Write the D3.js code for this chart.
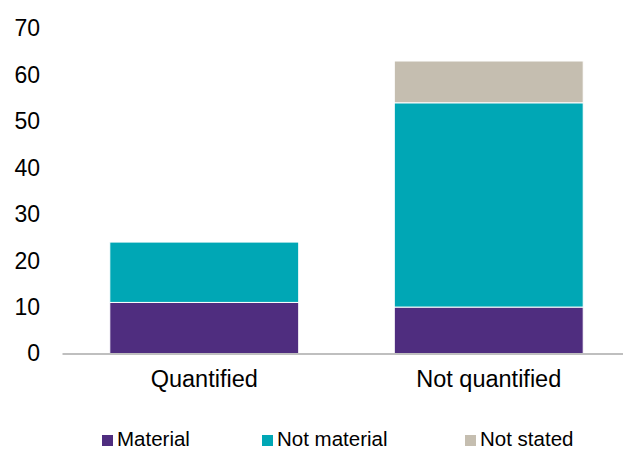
<!DOCTYPE html>
<html>
<head>
<meta charset="utf-8">
<script src="https://cdn.jsdelivr.net/npm/d3@7"></script>
<style>
  html, body { margin: 0; padding: 0; background: #fff; }
  svg { display: block; font-family: "Liberation Sans", Arial, sans-serif; }
</style>
</head>
<body>
<svg id="chart" width="623" height="449"></svg>
<script>
// Categories on the x axis
const categories = ["Quantified", "Not quantified"];
// Stacked series, bottom to top
const seriesNames = ["Material", "Not material", "Not stated"];
const material = [11, 10];
const notMaterial = [13, 44];
const notStated = [0, 9];
const seriesColors = ["#4f2d7f", "#00a7b5", "#c5beb0"];
const yTicks = [0, 10, 20, 30, 40, 50, 60, 70];

const rows = categories.map((c, i) => ({
  category: c,
  "Material": material[i],
  "Not material": notMaterial[i],
  "Not stated": notStated[i]
}));

const svg = d3.select("#chart");
const margin = { left: 62, right: -8, top: 28.5, bottom: 95.5 };
const W = 623, H = 449;

const x = d3.scaleBand()
  .domain(categories)
  .range([margin.left, W - margin.right])
  .paddingInner(0.336)
  .paddingOuter(0.168);

const y = d3.scaleLinear()
  .domain([0, 70])
  .range([H - margin.bottom, margin.top]);

const color = d3.scaleOrdinal().domain(seriesNames).range(seriesColors);

const stacked = d3.stack().keys(seriesNames)(rows);

// Bars
svg.append("g")
  .selectAll("g")
  .data(stacked)
  .join("g")
  .attr("fill", d => color(d.key))
  .selectAll("rect")
  .data(d => d.filter(s => s[1] - s[0] > 0))
  .join("rect")
  .attr("x", d => x(d.data.category))
  .attr("width", x.bandwidth())
  .attr("y", d => y(d[1]))
  .attr("height", d => y(d[0]) - y(d[1]))
  .attr("stroke", "#ffffff")
  .attr("stroke-width", 1);

// Y axis: labels only
const yAxis = d3.axisLeft(y).tickValues(yTicks).tickSize(0).tickPadding(22);
const yg = svg.append("g")
  .attr("transform", `translate(${margin.left},0)`)
  .call(yAxis);
yg.select(".domain").remove();
yg.selectAll("text")
  .attr("font-size", 23)
  .attr("fill", "#000")
  .attr("font-family", "Liberation Sans, Arial, sans-serif");

// X axis
const xAxis = d3.axisBottom(x).tickSize(0).tickPadding(17);
const xg = svg.append("g")
  .attr("transform", `translate(0,${y(0)})`)
  .call(xAxis);
xg.select(".domain").attr("stroke", "#bfbfbf").attr("stroke-width", 2);
xg.selectAll("text")
  .attr("font-size", 23.5)
  .attr("fill", "#000")
  .attr("font-family", "Liberation Sans, Arial, sans-serif");

// Legend
const legendX = [102, 262, 465];
const legend = svg.append("g");
seriesNames.forEach((name, i) => {
  const g = legend.append("g").attr("transform", `translate(${legendX[i]},0)`);
  g.append("rect")
    .attr("x", 0).attr("y", 435)
    .attr("width", 11).attr("height", 11)
    .attr("fill", color(name));
  g.append("text")
    .attr("x", 15).attr("y", 446)
    .attr("font-size", 20.5)
    .attr("fill", "#000")
    .text(name);
});
</script>
</body>
</html>
